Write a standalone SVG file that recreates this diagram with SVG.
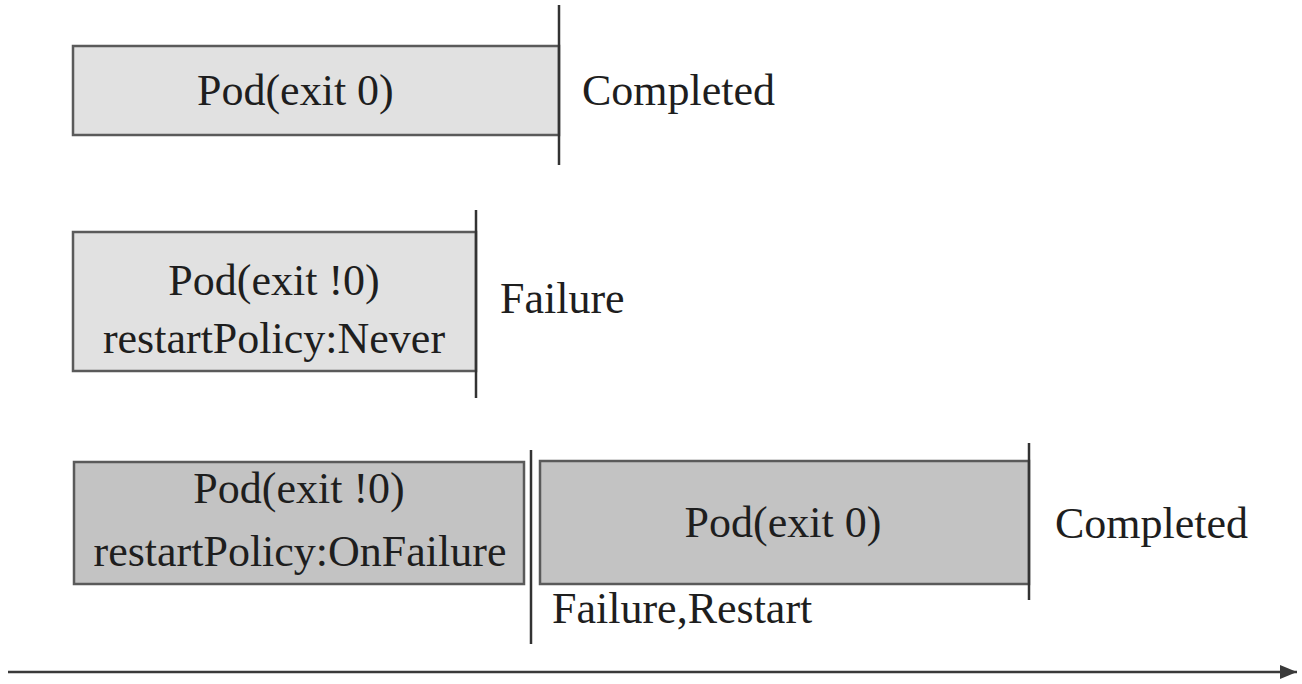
<svg xmlns="http://www.w3.org/2000/svg" width="1302" height="684" viewBox="0 0 1302 684">
<defs>
<style>
.t{font-family:'Liberation Serif','DejaVu Serif',serif;font-size:44px;fill:#1e1e1e}
.light{fill:#e1e1e1;stroke:#5a5a5a;stroke-width:2.5}
.dark{fill:#c3c3c3;stroke:#5a5a5a;stroke-width:2.5}
.mark{stroke:#333;stroke-width:2.5;fill:none}
.axis{stroke:#3a3a3a;stroke-width:2.5;fill:none}
</style>
<marker id="arr" markerWidth="18" markerHeight="16" refX="17" refY="8" orient="auto" markerUnits="userSpaceOnUse">
<path d="M0,1 L17,8 L0,15 Z" fill="#3a3a3a"/>
</marker>
</defs>
<rect width="1302" height="684" fill="#ffffff"/>
<g id="row1-pod">
<rect class="light" x="73" y="46" width="486" height="89"/>
<text class="t" x="197" y="105" font-family="Liberation Serif, serif">Pod(exit 0)</text>
</g>
<g id="row1-status">
<text class="t" x="582" y="105">Completed</text>
</g>
<g id="row2-pod">
<rect class="light" x="73" y="232" width="403" height="139"/>
<text class="t" x="274" y="295" text-anchor="middle">Pod(exit !0)</text>
<text class="t" x="274" y="353" text-anchor="middle">restartPolicy:Never</text>
</g>
<g id="row2-status">
<text class="t" x="500" y="313">Failure</text>
</g>
<g id="row3-pod1">
<rect class="dark" x="74" y="462" width="450" height="122"/>
<text class="t" x="299" y="503" text-anchor="middle">Pod(exit !0)</text>
<text class="t" x="300" y="566" text-anchor="middle">restartPolicy:OnFailure</text>
</g>
<g id="row3-pod2">
<rect class="dark" x="540" y="461" width="489" height="123"/>
<text class="t" x="783" y="537" text-anchor="middle">Pod(exit 0)</text>
</g>
<g id="row3-labels">
<text class="t" x="552" y="623">Failure,Restart</text>
<text class="t" x="1055" y="538">Completed</text>
</g>
<g id="connectors">
<line class="mark" x1="559" y1="5" x2="559" y2="165"/>
<line class="mark" x1="476" y1="210" x2="476" y2="398"/>
<line class="mark" x1="531" y1="450" x2="531" y2="644"/>
<line class="mark" x1="1029" y1="443" x2="1029" y2="600"/>
<line class="axis" x1="8" y1="672" x2="1297" y2="672" marker-end="url(#arr)"/>
</g>
</svg>
